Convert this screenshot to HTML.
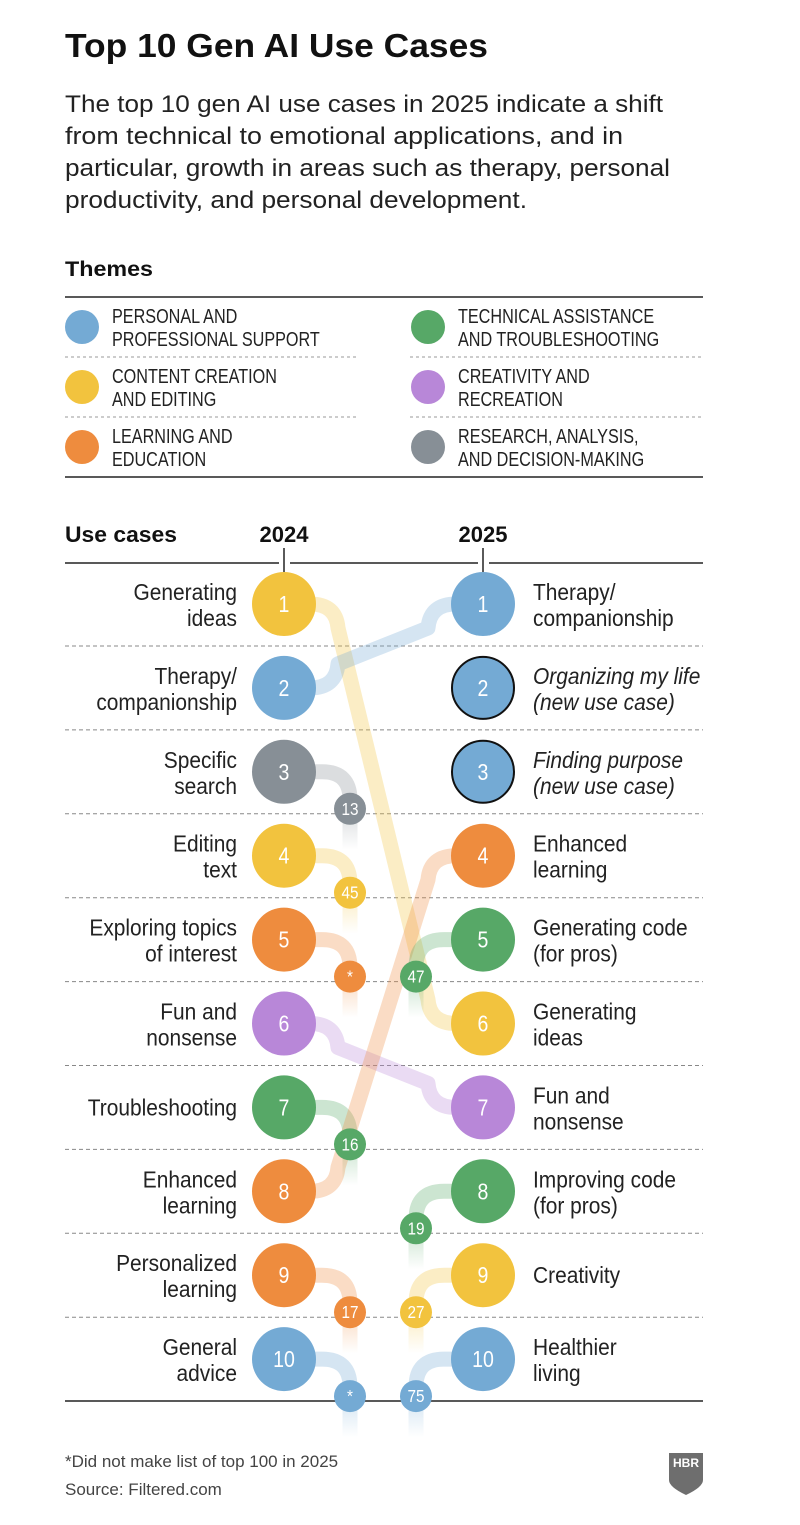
<!DOCTYPE html>
<html><head><meta charset="utf-8"><style>
html,body{margin:0;padding:0;background:#fff}
svg{display:block}
text{font-family:"Liberation Sans",sans-serif}
</style></head><body>
<svg id="c" width="800" height="1525" viewBox="0 0 800 1525" xmlns="http://www.w3.org/2000/svg">
<defs></defs>
<text x="65" y="57" font-size="33" font-weight="bold" fill="#111" textLength="423" lengthAdjust="spacingAndGlyphs">Top 10 Gen AI Use Cases</text>
<g font-size="24" fill="#222">
<text x="65" y="112" textLength="598" lengthAdjust="spacingAndGlyphs">The top 10 gen AI use cases in 2025 indicate a shift</text>
<text x="65" y="144" textLength="558" lengthAdjust="spacingAndGlyphs">from technical to emotional applications, and in</text>
<text x="65" y="176" textLength="605" lengthAdjust="spacingAndGlyphs">particular, growth in areas such as therapy, personal</text>
<text x="65" y="208" textLength="462" lengthAdjust="spacingAndGlyphs">productivity, and personal development.</text>
</g>
<text x="65" y="276" font-size="21" font-weight="bold" fill="#111" textLength="88" lengthAdjust="spacingAndGlyphs">Themes</text>
<line x1="65" y1="297" x2="703" y2="297" stroke="#222" stroke-width="1.5"/>
<line x1="65" y1="477" x2="703" y2="477" stroke="#222" stroke-width="1.5"/>
<g stroke="#999" stroke-dasharray="3,3" stroke-width="1">
<line x1="65" y1="357" x2="357" y2="357"/><line x1="410" y1="357" x2="703" y2="357"/>
<line x1="65" y1="417" x2="357" y2="417"/><line x1="410" y1="417" x2="703" y2="417"/>
</g>
<g id="legend"></g>

<text x="65" y="542" font-size="22" font-weight="bold" fill="#111" textLength="112" lengthAdjust="spacingAndGlyphs">Use cases</text>
<text x="284" y="542" font-size="22" font-weight="bold" fill="#111" text-anchor="middle">2024</text>
<text x="483" y="542" font-size="22" font-weight="bold" fill="#111" text-anchor="middle">2025</text>
<g stroke="#222" stroke-width="1.5">
<line x1="65" y1="563" x2="279" y2="563"/><line x1="290" y1="563" x2="478" y2="563"/><line x1="489" y1="563" x2="703" y2="563"/>
<line x1="284" y1="548" x2="284" y2="572"/><line x1="483" y1="548" x2="483" y2="572"/>
<line x1="65" y1="1401" x2="703" y2="1401"/>
</g>
<g id="seps" stroke="#888" stroke-dasharray="4,3" stroke-width="1"></g>
<g id="ribbons"></g>
<g id="marks"></g>
<g id="labels"></g>

<text x="65" y="1467" font-size="17" fill="#444">*Did not make list of top 100 in 2025</text>
<text x="65" y="1495" font-size="17" fill="#444">Source: Filtered.com</text>
<g>
<path d="M669,1453 H703 V1480 Q703,1487 686,1495 Q669,1487 669,1480 Z" fill="#6e6e6e"/>
<text x="686" y="1467" font-size="12" font-weight="bold" fill="#fff" text-anchor="middle">HBR</text>
</g>
</svg>
<script>
const themeNames=[["PERSONAL AND","PROFESSIONAL SUPPORT"],["CONTENT CREATION","AND EDITING"],["LEARNING AND","EDUCATION"],["TECHNICAL ASSISTANCE","AND TROUBLESHOOTING"],["CREATIVITY AND","RECREATION"],["RESEARCH, ANALYSIS,","AND DECISION-MAKING"]];
const themeColors=["#74aad4","#f2c33e","#ee8c3e","#57a867","#b887d8","#878f96"];
const left24=[["Generating","ideas"],["Therapy/","companionship"],["Specific","search"],["Editing","text"],["Exploring topics","of interest"],["Fun and","nonsense"],["Troubleshooting"],["Enhanced","learning"],["Personalized","learning"],["General","advice"]];
const leftTheme=[1,0,5,1,2,4,3,2,2,0];
const leftTo=[6,1,13,45,"*",7,16,4,17,"*"];
const right25=[["Therapy/","companionship"],["Organizing my life","(new use case)"],["Finding purpose","(new use case)"],["Enhanced","learning"],["Generating code","(for pros)"],["Generating","ideas"],["Fun and","nonsense"],["Improving code","(for pros)"],["Creativity"],["Healthier","living"]];
const rightTheme=[0,0,0,2,3,1,4,3,1,0];
const rightFrom=[2,"new","new",8,47,1,6,19,27,75];

const NS="http://www.w3.org/2000/svg";
const X24=284,X25=483,XL=350,XR=416,R=32,r=16;
function y(rank){return 604+(rank-1)*83.9;}
function el(tag,attrs,parent){const e=document.createElementNS(NS,tag);for(const k in attrs)e.setAttribute(k,attrs[k]);parent.appendChild(e);return e;}
function sx(ax,s){return `translate(${ax},0) scale(${s},1) translate(${-ax},0)`;}
const svg=document.getElementById('c'),defs=svg.querySelector('defs');

const lg=document.getElementById('legend');
themeNames.forEach((t,i)=>{
  const col=Math.floor(i/3),row=i%3;const cx=col?428:82,cy=327+row*60;
  const g=el('g',{},lg);
  
  
  el('circle',{cx:cx,cy:cy,r:17,fill:themeColors[i]},g);
  const tg=el('g',{transform:sx(cx+30,0.81)},g);
  t.forEach((s,j)=>{const tx=el('text',{x:cx+30,y:cy-4+j*23,'font-size':20,fill:'#222'},tg);tx.textContent=s;});
});
const sp=document.getElementById('seps');
for(let k=1;k<10;k++){const yy=y(k)+42;el('line',{x1:65,y1:yy,x2:703,y2:yy},sp);}

const rb=document.getElementById('ribbons');let gid=0;
function fadeTail(x,y0,y1,color){
  const id='g'+(gid++);
  const lgd=el('linearGradient',{id:id,gradientUnits:'userSpaceOnUse',x1:x,y1:y0,x2:x,y2:y1},defs);
  el('stop',{offset:0,'stop-color':color,'stop-opacity':0.3},lgd);
  el('stop',{offset:1,'stop-color':color,'stop-opacity':0},lgd);
  const p=el('path',{d:`M${x},${y0} V${y1}`,stroke:`url(#${id})`,'stroke-width':15,fill:'none'},rb);
  
  
}
function small(x,cy,color,label){
  const mk=document.getElementById('marks');
  const g=el('g',{},mk);
  
  
  el('circle',{cx:x,cy:cy,r:r,fill:color},g);
  const t=el('text',{x:x,y:cy+6,'font-size':18,fill:'#fff','text-anchor':'middle',transform:sx(x,0.85)},g);t.textContent=label;
}
left24.forEach((lab,i)=>{
  const y1=y(i+1),c=themeColors[leftTheme[i]],to=leftTo[i];
  if(typeof to==='number'&&to<=10){
    const y2=y(to),s=y2>y1?1:-1;
    const p=el('path',{d:`M${X24},${y1} H310 Q336,${y1} 338,${y1+s*24} L428,${y2-s*24} Q430,${y2} 456,${y2} H${X25}`,stroke:c,'stroke-opacity':0.3,'stroke-width':15,fill:'none','stroke-linejoin':'round'},rb);
    
    
  } else {
    const p=el('path',{d:`M${X24},${y1} H322 Q${XL},${y1} ${XL},${y1+28} V${y1+40}`,stroke:c,'stroke-opacity':0.3,'stroke-width':15,fill:'none'},rb);
    
    
    fadeTail(XL,y1+40,y1+78,c);
    small(XL,y1+37,c,String(to));
  }
});
right25.forEach((lab,i)=>{
  const y1=y(i+1),c=themeColors[rightTheme[i]],fr=rightFrom[i];
  if(typeof fr==='number'&&fr>10){
    const p=el('path',{d:`M${X25},${y1} H444 Q${XR},${y1} ${XR},${y1+28} V${y1+40}`,stroke:c,'stroke-opacity':0.3,'stroke-width':15,fill:'none'},rb);
    
    
    fadeTail(XR,y1+40,y1+78,c);
    small(XR,y1+37,c,String(fr));
  }
});
const mk=document.getElementById('marks'),lb=document.getElementById('labels');
function big(x,cy,color,num,outline){
  const g=el('g',{},mk);
  
  
  el('circle',{cx:x,cy:cy,r:outline?31:R,fill:color,stroke:outline?'#111':'none','stroke-width':2},g);
  const t=el('text',{x:x,y:cy+8,'font-size':23,fill:'#fff','text-anchor':'middle',transform:sx(x,0.85)},g);t.textContent=num;
}
left24.forEach((lab,i)=>{
  const cy=y(i+1);big(X24,cy,themeColors[leftTheme[i]],i+1,false);
  const g=el('g',{transform:sx(237,0.91)},lb);
  
  
  const off=lab.length===1?[8]:[-4,22];
  lab.forEach((s,j)=>{const t=el('text',{x:237,y:cy+off[j],'font-size':23,fill:'#222','text-anchor':'end'},g);t.textContent=s;});
});
right25.forEach((lab,i)=>{
  const cy=y(i+1);big(X25,cy,themeColors[rightTheme[i]],i+1,rightFrom[i]==='new');
  const g=el('g',{transform:sx(533,0.91)},lb);
  
  
  const off=lab.length===1?[8]:[-4,22];
  lab.forEach((s,j)=>{const t=el('text',{x:533,y:cy+off[j],'font-size':23,fill:'#222'},g);if(rightFrom[i]==='new')t.setAttribute('font-style','italic');t.textContent=s;});
});
</script>
</body></html>
